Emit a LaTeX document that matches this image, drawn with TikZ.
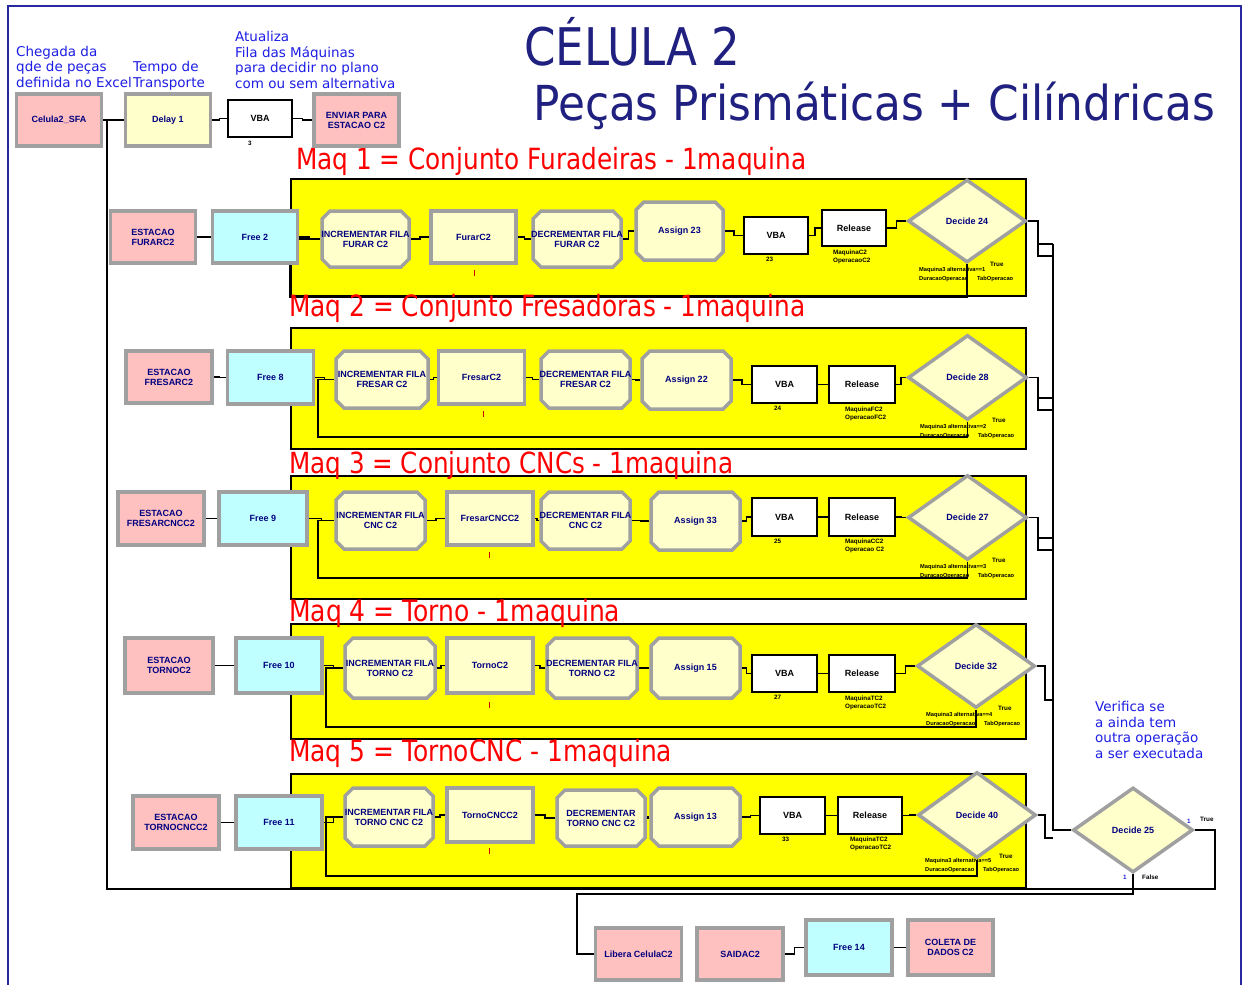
\documentclass[tikz,border=0pt]{standalone}
\usepackage{fontspec}
\setmainfont{DejaVu Sans}
\newfontfamily\modfont{Liberation Sans}
\usetikzlibrary{shapes.misc,shapes.geometric,calc}
\definecolor{pinkm}{RGB}{255,192,192}
\definecolor{yelm}{RGB}{255,255,204}
\definecolor{cyanm}{RGB}{192,255,255}
\definecolor{zoney}{RGB}{255,255,0}
\definecolor{navym}{RGB}{0,0,128}
\definecolor{bevel}{RGB}{160,160,160}
\definecolor{titlec}{RGB}{32,32,128}
\definecolor{notec}{RGB}{30,30,230}
\definecolor{framec}{RGB}{40,40,160}
\definecolor{redt}{RGB}{255,0,0}
\newcommand\zl[1]{\makebox[0pt][c]{#1}}
\pgfdeclarelayer{bg}
\pgfdeclarelayer{cn}
\pgfsetlayers{bg,cn,main}
\begin{document}
\begin{tikzpicture}[x=1pt,y=-1pt,
  modtxt/.style={font=\modfont\bfseries\fontsize{9}{10}\selectfont, text=navym, align=center},
  mod/.style={rectangle, draw=bevel, line width=3.5, fill=#1, minimum width=85, minimum height=52, inner sep=0, modtxt},
  octm/.style={chamfered rectangle, chamfered rectangle xsep=8, draw=bevel, line width=3.5, fill=yelm, minimum width=88, minimum height=57, inner sep=0, modtxt},
  decm/.style={diamond, draw=bevel, line width=3.5, fill=yelm, minimum width=118, minimum height=84, inner sep=0, modtxt},
  plainm/.style={rectangle, draw=black, line width=1.2, fill=white, minimum width=64, minimum height=37, inner sep=0, font=\modfont\bfseries\fontsize{9}{10}\selectfont, text=black},
  zone/.style={rectangle, draw=black, line width=1.5, fill=zoney, anchor=north west, inner sep=0},
  conn/.style={draw=black, line width=1.3},
  jog/.style={to path={-| ($(\tikztostart)!0.5!(\tikztotarget)$) |- (\tikztotarget) \tikztonodes}},
  tiny/.style={font=\modfont\bfseries\fontsize{6.3}{8}\selectfont, inner sep=0, anchor=base west, align=left},
  tinier/.style={font=\modfont\bfseries\fontsize{5.7}{8.5}\selectfont, inner sep=0, anchor=base west, align=left},
  note/.style={font=\fontsize{13.5}{15.5}\selectfont, text=notec, inner sep=0, anchor=base west, align=left},
  redtitle/.style={text=redt, inner sep=0, anchor=base west},
  tick/.style={draw=redt!80!black, line width=1}
]
\useasboundingbox (0,0) rectangle (1248,985);
\begin{pgfonlayer}{bg}
\fill[white] (0,0) rectangle (1248,985);
\draw[framec, line width=1.5] (8,6) rectangle (1241,992);
% ---------- zones ----------
\node[zone, minimum width=735, minimum height=117] (z1) at (290,178) {};
\node[zone, minimum width=735, minimum height=121] (z2) at (290,327) {};
\node[zone, minimum width=735, minimum height=123] (z3) at (290,475) {};
\node[zone, minimum width=735, minimum height=115] (z4) at (290,623) {};
\node[zone, minimum width=735, minimum height=114] (z5) at (290,773) {};
\end{pgfonlayer}

% ---------- titles and notes ----------
\node[anchor=base west, inner sep=0, text=titlec] (tt1) at (524,65) {\resizebox{216pt}{!}{\scalebox{1}[1.15]{\fontsize{50}{50}\selectfont CÉLULA 2}}};
\node[anchor=base west, inner sep=0, text=titlec] (tt2) at (533,120) {\resizebox{682pt}{!}{\scalebox{1}[1.1]{\fontsize{50}{50}\selectfont Peças Prismáticas + Cilíndricas}}};
\node[note] (n1) at (16,87) {Chegada da\\qde de peças\\definida no Excel};
\node[note] (n2) at (133,87) {Tempo de\\Transporte};
\node[note] (n3) at (235,88) {Atualiza\\Fila das Máquinas\\para decidir no plano\\com ou sem alternativa};
\node[note] (n4) at (1095,758) {Verifica se\\a ainda tem\\outra operação\\a ser executada};

\node[redtitle] (m1) at (296,169) {\resizebox{510pt}{!}{\scalebox{1}[1.18]{\fontsize{24}{24}\selectfont Maq 1 = Conjunto Furadeiras - 1maquina}}};
\node[redtitle] (m2) at (289,316) {\resizebox{516pt}{!}{\scalebox{1}[1.18]{\fontsize{24}{24}\selectfont Maq 2 = Conjunto Fresadoras - 1maquina}}};
\node[redtitle] (m3) at (289,473) {\resizebox{444pt}{!}{\scalebox{1}[1.18]{\fontsize{24}{24}\selectfont Maq 3 = Conjunto CNCs - 1maquina}}};
\node[redtitle] (m4) at (289,621) {\resizebox{331pt}{!}{\scalebox{1}[1.18]{\fontsize{24}{24}\selectfont Maq 4 = Torno - 1maquina}}};
\node[redtitle] (m5) at (289,761) {\resizebox{383pt}{!}{\scalebox{1}[1.18]{\fontsize{24}{24}\selectfont Maq 5 = TornoCNC - 1maquina}}};

% ---------- header modules ----------
\node[mod=pinkm] (hcel) at (59,120) {Celula2\_SFA};
\node[mod=yelm] (hdel) at (168,120) {Delay 1};
\node[plainm] (hvba) at (260,118.5) {VBA};
\node[mod=pinkm] (henv) at (356.5,120) {\zl{ENVIAR PARA}\\\zl{ESTACAO C2}};
\node[tiny] (hvl) at (248,145) {3};

% ---------- row 1 ----------
\node[mod=pinkm] (r1st) at (153,237) {\zl{ESTACAO}\\\zl{FURARC2}};
\node[mod=cyanm] (r1fr) at (255,237) {Free 2};
\node[octm, minimum width=87, minimum height=56] (r1in) at (365.5,239) {\zl{INCREMENTAR FILA}\\\zl{FURAR C2}};
\node[mod=yelm] (r1pr) at (473.5,237) {FurarC2};
\node[octm, minimum width=88, minimum height=56] (r1de) at (577,239) {\zl{DECREMENTAR FILA}\\\zl{FURAR C2}};
\node[octm, minimum width=87, minimum height=58] (r1as) at (679.5,231) {Assign 23};
\node[plainm] (r1vb) at (776,235.5) {VBA};
\node[plainm, minimum height=36] (r1re) at (854,228) {Release};
\node[decm, minimum height=83] (r1dc) at (967,221) {Decide 24};
\draw[tick] (474,270) -- (474,276);
\node[tiny] (r1l1) at (766,261) {23};
\node[tiny] (r1l2) at (833,262) {MaquinaC2\\OperacaoC2};
\node[tiny] (r1l3) at (990,266) {True};
\node[tinier] (r1l4) at (919,280) {Maquina3 alternativa==1\\DuracaoOperacao\quad\; TabOperacao};

% ---------- row 2 ----------
\node[mod=pinkm, minimum width=86] (r2st) at (169,377) {\zl{ESTACAO}\\\zl{FRESARC2}};
\node[mod=cyanm, minimum width=86, minimum height=53] (r2fr) at (270.5,377.5) {Free 8};
\node[octm, minimum width=92, minimum height=57] (r2in) at (382,379.5) {\zl{INCREMENTAR FILA}\\\zl{FRESAR C2}};
\node[mod=yelm, minimum width=86, minimum height=53] (r2pr) at (481.5,377.5) {FresarC2};
\node[octm, minimum width=89, minimum height=57] (r2de) at (585.5,379.5) {\zl{DECREMENTAR FILA}\\\zl{FRESAR C2}};
\node[octm, minimum width=89, minimum height=58] (r2as) at (686.5,380) {Assign 22};
\node[plainm, minimum width=65] (r2vb) at (784.5,384.5) {VBA};
\node[plainm, minimum width=66] (r2re) at (862,384.5) {Release};
\node[decm, minimum width=119, minimum height=85] (r2dc) at (967.5,377.5) {Decide 28};
\draw[tick] (483,411) -- (483,417);
\node[tiny] (r2l1) at (774,410) {24};
\node[tiny] (r2l2) at (845,419) {MaquinaFC2\\OperacaoFC2};
\node[tiny] (r2l3) at (992,422) {True};
\node[tinier] (r2l4) at (920,437) {Maquina3 alternativa==2\\DuracaoOperacao\quad\; TabOperacao};

% ---------- row 3 ----------
\node[mod=pinkm, minimum width=86, minimum height=53] (r3st) at (161,518.5) {\zl{ESTACAO}\\\zl{FRESARCNCC2}};
\node[mod=cyanm, minimum width=88, minimum height=53] (r3fr) at (263,518.5) {Free 9};
\node[octm, minimum width=89, minimum height=57] (r3in) at (380.5,520.5) {\zl{INCREMENTAR FILA}\\\zl{CNC C2}};
\node[mod=yelm, minimum width=86, minimum height=53] (r3pr) at (490,518.5) {FresarCNCC2};
\node[octm, minimum width=89, minimum height=57] (r3de) at (585.5,520.5) {\zl{DECREMENTAR FILA}\\\zl{CNC C2}};
\node[octm, minimum width=89, minimum height=58] (r3as) at (695.5,521) {Assign 33};
\node[plainm, minimum width=65, minimum height=38] (r3vb) at (784.5,517) {VBA};
\node[plainm, minimum width=66, minimum height=38] (r3re) at (862,517) {Release};
\node[decm, minimum width=119, minimum height=85] (r3dc) at (967.5,517.5) {Decide 27};
\draw[tick] (489,552) -- (489,558);
\node[tiny] (r3l1) at (774,543) {25};
\node[tiny] (r3l2) at (845,551) {MaquinaCC2\\Operacao C2};
\node[tiny] (r3l3) at (992,562) {True};
\node[tinier] (r3l4) at (920,577) {Maquina3 alternativa==3\\DuracaoOperacao\quad\; TabOperacao};

% ---------- row 4 ----------
\node[mod=pinkm, minimum width=88, minimum height=55] (r4st) at (169,665.5) {\zl{ESTACAO}\\\zl{TORNOC2}};
\node[mod=cyanm, minimum width=86, minimum height=55] (r4fr) at (279,665.5) {Free 10};
\node[octm, minimum width=90, minimum height=60] (r4in) at (390,668) {\zl{INCREMENTAR FILA}\\\zl{TORNO C2}};
\node[mod=yelm, minimum width=86, minimum height=55] (r4pr) at (490,665.5) {TornoC2};
\node[octm, minimum width=90, minimum height=60] (r4de) at (592,668) {\zl{DECREMENTAR FILA}\\\zl{TORNO C2}};
\node[octm, minimum width=89, minimum height=60] (r4as) at (695.5,668) {Assign 15};
\node[plainm, minimum width=65] (r4vb) at (784.5,673.5) {VBA};
\node[plainm, minimum width=66] (r4re) at (862,673.5) {Release};
\node[decm, minimum width=118, minimum height=84] (r4dc) at (976,666) {Decide 32};
\draw[tick] (489,702) -- (489,708);
\node[tiny] (r4l1) at (774,699) {27};
\node[tiny] (r4l2) at (845,708) {MaquinaTC2\\OperacaoTC2};
\node[tiny] (r4l3) at (998,710) {True};
\node[tinier] (r4l4) at (926,725) {Maquina3 alternativa==4\\DuracaoOperacao\quad\; TabOperacao};

% ---------- row 5 ----------
\node[mod=pinkm, minimum width=86, minimum height=53] (r5st) at (176,822.5) {\zl{ESTACAO}\\\zl{TORNOCNCC2}};
\node[mod=cyanm, minimum width=86, minimum height=53] (r5fr) at (279,822.5) {Free 11};
\node[octm, minimum width=88, minimum height=58] (r5in) at (389,817) {\zl{INCREMENTAR FILA}\\\zl{TORNO CNC C2}};
\node[mod=yelm, minimum width=86, minimum height=54] (r5pr) at (490,815) {TornoCNCC2};
\node[octm, minimum width=88, minimum height=56] (r5de) at (601,818) {\zl{DECREMENTAR}\\\zl{TORNO CNC C2}};
\node[octm, minimum width=89, minimum height=58] (r5as) at (695.5,817) {Assign 13};
\node[plainm, minimum width=65] (r5vb) at (792.5,815.5) {VBA};
\node[plainm] (r5re) at (870,815.5) {Release};
\node[decm, minimum width=118, minimum height=86] (r5dc) at (977,815) {Decide 40};
\draw[tick] (489,848) -- (489,854);
\node[tiny] (r5l1) at (782,841) {33};
\node[tiny] (r5l2) at (850,849) {MaquinaTC2\\OperacaoTC2};
\node[tiny] (r5l3) at (999,858) {True};
\node[tinier] (r5l4) at (925,871) {Maquina3 alternativa==5\\DuracaoOperacao\quad\; TabOperacao};

% ---------- final decide ----------
\node[decm, minimum width=120, minimum height=85] (d25) at (1133,830) {Decide 25};
\node[tiny] (d25t) at (1200,821) {True};
\node[tiny, text=notec] (d25a) at (1187,823) {1};
\node[tiny] (d25f) at (1142,879) {False};
\node[tiny, text=notec] (d25b) at (1123,879) {1};

% ---------- bottom modules ----------
\node[mod=pinkm, minimum width=86] (blib) at (638.5,954) {Libera CelulaC2};
\node[mod=pinkm, minimum width=86] (bsai) at (740,954) {SAIDAC2};
\node[mod=cyanm, minimum width=86, minimum height=55] (bfr) at (849,947.5) {Free 14};
\node[mod=pinkm, minimum width=85, minimum height=55] (bcol) at (950.5,947.5) {\zl{COLETA DE}\\\zl{DADOS C2}};

% ---------- connectors ----------
\begin{pgfonlayer}{cn}
\draw[conn] (hcel.east) to[jog] (hdel.west);
\draw[conn] (hdel.east) to[jog] (hvba.west);
\draw[conn] (hvba.east) to[jog] (henv.west);
\foreach \r in {1,...,5}{
  \foreach \a/\b in {st/fr, fr/in, in/pr, pr/de, de/as, as/vb, vb/re, re/dc}
    \draw[conn] (r\r\a.east) to[jog] (r\r\b.west);
}
\draw[conn] (r1dc.south) |- (290,297) |- (r1in.west);
\draw[conn] (r2dc.south) |- (318,437) |- (r2in.west);
\draw[conn] (r3dc.south) |- (318,578) |- (r3in.west);
\draw[conn] (r4dc.south) |- (326,727) |- (r4in.west);
\draw[conn] (r5dc.south) |- (326,876) |- (r5in.west);

\coordinate (busTop) at (1053,244);
\coordinate (busBot) at (1053,830);
\draw[conn] (r1dc.east) -| (1038,256) -- (1053,256);
\draw[conn] (1038,244) -- (busTop);
\draw[conn] (r2dc.east) -| (1038,410) -- (1053,410);
\draw[conn] (1038,398) -- (1053,398);
\draw[conn] (r3dc.east) -| (1038,550) -- (1053,550);
\draw[conn] (1038,538) -- (1053,538);
\draw[conn] (r4dc.east) -| (1045,700) -- (1053,700);
\draw[conn] (r5dc.east) -| (1045,838) -- (1053,838);
\draw[conn] (busTop) -- (busBot) -- (d25.west);

\draw[conn] (bsai.east) to[jog] (bfr.west);
\draw[conn] (bfr.east) to[jog] (bcol.west);
\draw[conn] (d25.east) -| (1215,889) -| (107,120);
\draw[conn] (d25.south) |- (577,894) |- (blib.west);
\end{pgfonlayer}
\end{tikzpicture}
\end{document}
